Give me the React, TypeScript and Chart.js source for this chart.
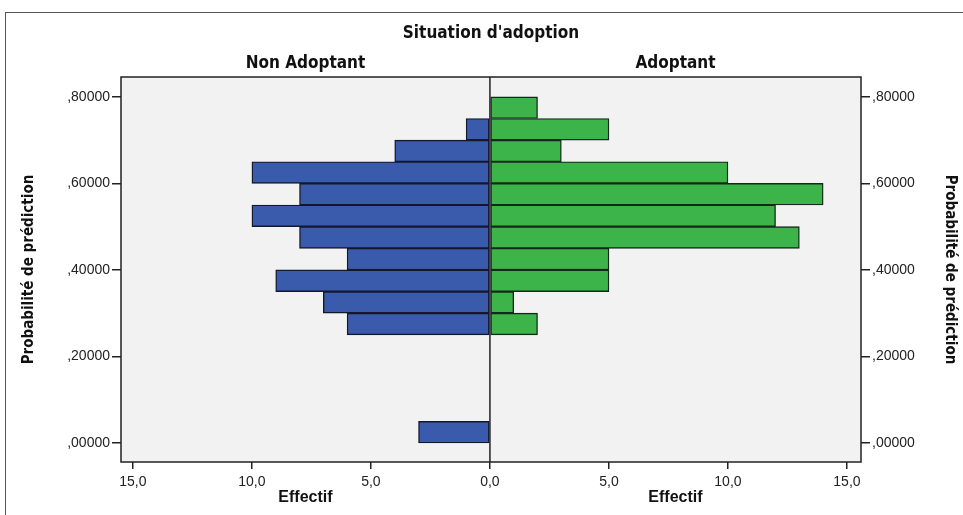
import React, { useEffect, useRef } from "react";
import { Chart, registerables } from "chart.js";

Chart.register(...registerables);

// Bin centers (probability of prediction), bin width 0.05
const binCenters = [0.025, 0.275, 0.325, 0.375, 0.425, 0.475, 0.525, 0.575, 0.625, 0.675, 0.725, 0.775];
const nonAdoptant = [3, 6, 7, 9, 6, 8, 10, 8, 10, 4, 1, 0];
const adoptant = [0, 2, 1, 5, 5, 13, 12, 14, 10, 3, 5, 2];
const xTicks = [-15, -10, -5, 0, 5, 10, 15];
const yTicks = [0, 0.2, 0.4, 0.6, 0.8];
const mainTitle = "Situation d'adoption";
const groupLabels = ["Non Adoptant", "Adoptant"];
const xTitle = "Effectif";
const yTitle = "Probabilité de prédiction";

const narrow = "'Liberation Sans Narrow', 'DejaVu Sans Condensed', Arial, sans-serif";
const sans = "'Liberation Sans', Arial, sans-serif";

const fmtX = (v: number) => Math.abs(v).toFixed(1).replace(".", ",");
const fmtY = (v: number) => v.toFixed(5).replace(/^0\./, ",").replace(".", ",");

const yAxis = (position: "left" | "right", width: number) => ({
  type: "linear",
  position,
  min: -0.044,
  max: 0.846,
  offset: false,
  afterBuildTicks: (s: any) => {
    s.ticks = yTicks.map((v) => ({ value: v }));
  },
  afterFit: (s: any) => {
    s.width = width;
  },
  ticks: {
    callback: (v: any) => fmtY(Number(v)),
    font: { size: 14, family: sans },
    color: "#222",
    padding: 2,
  },
  title: {
    display: true,
    text: yTitle,
    font: { size: 15, weight: "bold", family: narrow },
    color: "#111",
    padding: position === "left" ? { top: 20, bottom: 4 } : { top: 4, bottom: 4 },
  },
  grid: {
    display: true,
    offset: false,
    drawOnChartArea: false,
    drawTicks: true,
    tickLength: 9,
    tickColor: "#222",
    lineWidth: 1.5,
  },
  border: { display: false },
});

export default function App() {
  const ref = useRef<HTMLCanvasElement | null>(null);
  useEffect(() => {
    if (!ref.current) return;
    const decor = {
      id: "decor",
      beforeDraw(chart: any) {
        const { ctx, chartArea: a } = chart;
        ctx.save();
        ctx.fillStyle = "#f2f2f2";
        ctx.fillRect(a.left, a.top, a.right - a.left, a.bottom - a.top);
        ctx.restore();
      },
      afterDraw(chart: any) {
        const { ctx, chartArea: a, scales } = chart;
        const x0 = scales.x.getPixelForValue(0);
        ctx.save();
        ctx.strokeStyle = "#222";
        ctx.lineWidth = 1.5;
        ctx.strokeRect(a.left, a.top, a.right - a.left, a.bottom - a.top);
        ctx.beginPath();
        ctx.moveTo(x0, a.top);
        ctx.lineTo(x0, a.bottom);
        ctx.stroke();
        ctx.fillStyle = "#111";
        ctx.textAlign = "center";
        ctx.textBaseline = "middle";
        ctx.font = `bold 17px ${narrow}`;
        ctx.fillText(mainTitle, (a.left + a.right) / 2, 34);
        ctx.fillText(groupLabels[0], (a.left + x0) / 2, 64);
        ctx.fillText(groupLabels[1], (x0 + a.right) / 2, 64);
        ctx.font = `bold 16px ${sans}`;
        ctx.fillText(xTitle, (a.left + x0) / 2, 498);
        ctx.fillText(xTitle, (x0 + a.right) / 2, 498);
        ctx.restore();
      },
    };
    const chart = new Chart(ref.current, {
      type: "bar",
      data: {
        datasets: [
          {
            label: groupLabels[0],
            data: binCenters.map((y, i) => ({ y, x: [-nonAdoptant[i], 0] })) as any,
            backgroundColor: "#3a5aab",
            borderColor: "#15182a",
            borderWidth: 1.4,
            borderSkipped: false,
            grouped: false,
            barPercentage: 1,
            categoryPercentage: 1,
          },
          {
            label: groupLabels[1],
            data: binCenters.map((y, i) => ({ y, x: [0, adoptant[i]] })) as any,
            backgroundColor: "#3cb44a",
            borderColor: "#15291a",
            borderWidth: 1.4,
            borderSkipped: false,
            grouped: false,
            barPercentage: 1,
            categoryPercentage: 1,
          },
        ],
      },
      options: {
        indexAxis: "y",
        animation: false,
        responsive: false,
        maintainAspectRatio: false,
        layout: { padding: { top: 77, left: 0, right: 0, bottom: 0 } },
        plugins: { legend: { display: false }, tooltip: { enabled: false }, title: { display: false } },
        scales: {
          x: {
            type: "linear",
            min: -15.5,
            max: 15.59,
            afterBuildTicks: (s: any) => {
              s.ticks = xTicks.map((v) => ({ value: v }));
            },
            afterFit: (s: any) => {
              s.height = 515 - 462;
            },
            ticks: {
              callback: (v: any) => fmtX(Number(v)),
              font: { size: 14, family: sans },
              color: "#222",
              padding: 5,
              maxRotation: 0,
            },
            grid: {
              display: true,
              drawOnChartArea: false,
              drawTicks: true,
              tickLength: 7,
              tickColor: "#222",
              lineWidth: 1.5,
            },
            border: { display: false },
          },
          y: yAxis("left", 121),
          y2: yAxis("right", 963 - 861),
        },
      } as any,
      plugins: [decor],
    });
    return () => chart.destroy();
  }, []);

  return (
    <div style={{ position: "fixed", left: 0, top: 0, width: 963, height: 515, background: "#fff", overflow: "hidden" }}>
      <div
        style={{
          position: "absolute",
          left: 5,
          top: 12,
          width: 1000,
          height: 600,
          border: "1.5px solid #555",
          boxSizing: "border-box",
        }}
      />
      <canvas ref={ref} width={963} height={515} style={{ position: "absolute", left: 0, top: 0, width: 963, height: 515 }} />
    </div>
  );
}
